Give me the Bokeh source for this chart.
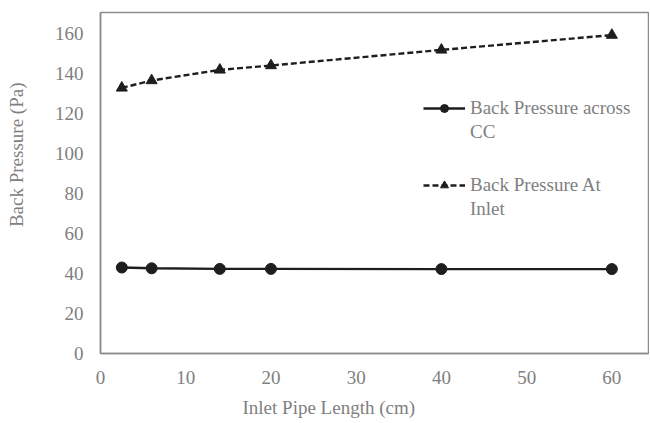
from bokeh.plotting import figure
from bokeh.models import Legend, LegendItem, Range1d, FixedTicker, Title
from bokeh.embed import file_html
from bokeh.resources import INLINE

pipe_length = [2.5, 6, 14, 20, 40, 60]
bp_across_cc = [43.0, 42.6, 42.3, 42.3, 42.2, 42.2]
bp_at_inlet = [132.8, 136.5, 141.8, 144.0, 151.8, 159.2]
x_ticks = [0, 10, 20, 30, 40, 50, 60]
y_ticks = [0, 20, 40, 60, 80, 100, 120, 140, 160]

FONT = "Liberation Serif"
GRAY = "#808080"
FRAME = "#8c8c8c"
INK = "#1e1e1e"
FS = "19px"

p = figure(width=649, height=421, output_backend="svg", toolbar_location=None,
           x_range=Range1d(0, 64.3), y_range=Range1d(0, 170.5),
           min_border_left=100, min_border_right=1, min_border_top=12, min_border_bottom=68)
p.background_fill_color = "white"
p.border_fill_color = "white"
p.outline_line_color = FRAME
p.outline_line_width = 1.5
p.grid.visible = False

for ax in (p.xaxis[0], p.yaxis[0]):
    ax.axis_line_color = FRAME
    ax.axis_line_width = 1.5
    ax.major_tick_line_color = None
    ax.minor_tick_line_color = None
    ax.major_tick_out = 0
    ax.major_tick_in = 0
    ax.minor_tick_out = 0
    ax.minor_tick_in = 0
    ax.major_label_text_font = FONT
    ax.major_label_text_font_size = FS
    ax.major_label_text_color = GRAY

p.xaxis.ticker = FixedTicker(ticks=x_ticks)
p.yaxis.ticker = FixedTicker(ticks=y_ticks)
p.xaxis.major_label_standoff = 17
p.yaxis.major_label_standoff = 17

# axis titles as Titles so they can sit off-centre like the original
xtitle = Title(text=" \nInlet Pipe Length (cm)", align="left", offset=142,
               vertical_align="top", standoff=-22,
               text_font=FONT, text_font_size=FS, text_color=GRAY, text_font_style="normal")
p.add_layout(xtitle, "below")
ytitle = Title(text="Back Pressure (Pa)\n ", align="right", offset=70,
               vertical_align="middle", standoff=6,
               text_font=FONT, text_font_size=FS, text_color=GRAY, text_font_style="normal")
p.add_layout(ytitle, "left")

r1l = p.line(pipe_length, bp_across_cc, line_color=INK, line_width=2.4)
r1m = p.scatter(pipe_length, bp_across_cc, marker="circle", size=11, fill_color=INK, line_color=INK)
r2l = p.line(pipe_length, bp_at_inlet, line_color=INK, line_width=2.4, line_dash="6 3")
r2m = p.scatter(pipe_length, bp_at_inlet, marker="triangle", size=11, fill_color=INK, line_color=INK)
blank = p.line([], [], line_alpha=0)

def make_legend(items, loc):
    lg = Legend(items=items, location=loc)
    lg.border_line_color = None
    lg.background_fill_alpha = 0
    lg.padding = 0
    lg.margin = 0
    lg.spacing = 2
    lg.glyph_width = 42
    lg.glyph_height = 20
    lg.label_height = 20
    lg.label_standoff = 5
    lg.label_text_font = FONT
    lg.label_text_font_size = FS
    lg.label_text_color = GRAY
    return lg

p.add_layout(make_legend([LegendItem(label="Back Pressure across", renderers=[r1l, r1m]),
                          LegendItem(label="CC", renderers=[blank])], (323, 210)), "center")
p.add_layout(make_legend([LegendItem(label="Back Pressure At", renderers=[r2l, r2m]),
                          LegendItem(label="Inlet", renderers=[blank])], (323, 133)), "center")

open("out.html", "w").write(file_html(p, INLINE))
